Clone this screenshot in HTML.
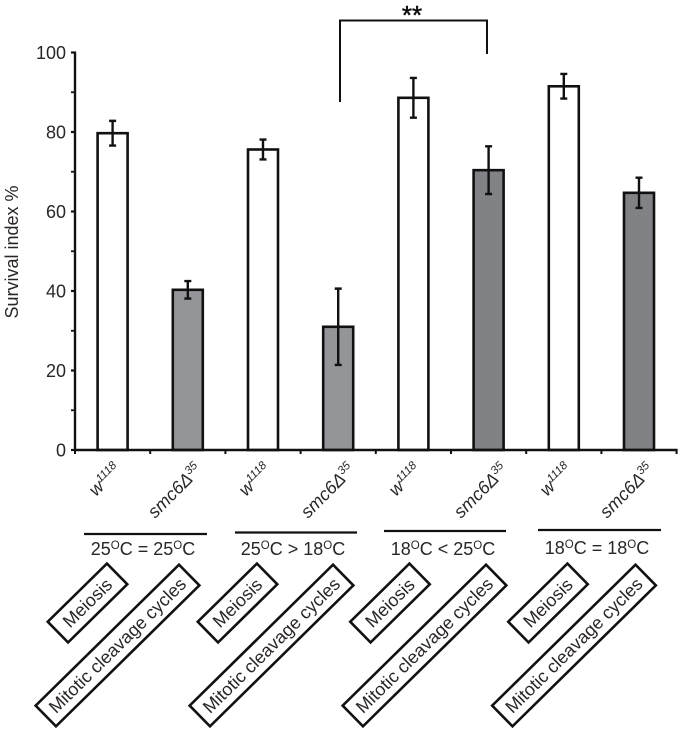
<!DOCTYPE html>
<html lang="en">
<head>
<meta charset="utf-8">
<title>Survival index chart</title>
<style>
  html, body { margin: 0; padding: 0; background: #fff; }
  svg { display: block; font-family: "Liberation Sans", sans-serif; fill: #231f20; }
  .box { fill: #fff; stroke: #111; stroke-width: 2.6; }
  .lbl { font-size: 18px; text-anchor: middle; dominant-baseline: central; fill: #2a2627; }
  .geno { font-size: 18px; font-style: italic; fill: #2a2627; }
  .geno .s { font-size: 11.5px; }
  .cond { font-size: 18px; text-anchor: middle; fill: #2a2627; }
  .cond .o { font-size: 11.5px; }
</style>
</head>
<body>
<svg id="chart" xmlns="http://www.w3.org/2000/svg" width="683" height="732" viewBox="0 0 683 732">
  <rect x="0" y="0" width="683" height="732" fill="#fff"/>
  <g id="plot"></g>

  <text transform="translate(18,252) rotate(-90)" text-anchor="middle" font-size="18" fill="#2a2627">Survival index %</text>

  <path d="M340 102V20.5H487V54" fill="none" stroke="#111" stroke-width="2"/>
  <text x="412" y="24" text-anchor="middle" font-size="26" fill="#111" stroke="#111" stroke-width="0.5">**</text>

  <g>
    <text class="geno" transform="translate(96,497) rotate(-45)">w<tspan class="s" dy="-7">1118</tspan></text>
    <text class="geno" transform="translate(155,519) rotate(-45)">smc6Δ<tspan class="s" dy="-7">35</tspan></text>
    <text class="geno" transform="translate(246,497) rotate(-45)">w<tspan class="s" dy="-7">1118</tspan></text>
    <text class="geno" transform="translate(308,519) rotate(-45)">smc6Δ<tspan class="s" dy="-7">35</tspan></text>
    <text class="geno" transform="translate(396,497) rotate(-45)">w<tspan class="s" dy="-7">1118</tspan></text>
    <text class="geno" transform="translate(461,519) rotate(-45)">smc6Δ<tspan class="s" dy="-7">35</tspan></text>
    <text class="geno" transform="translate(547,497) rotate(-45)">w<tspan class="s" dy="-7">1118</tspan></text>
    <text class="geno" transform="translate(607,519) rotate(-45)">smc6Δ<tspan class="s" dy="-7">35</tspan></text>
  </g>

  <g>
    <line x1="84" y1="534" x2="207" y2="534" stroke="#111" stroke-width="2.2"/>
    <line x1="235" y1="532.5" x2="357" y2="532.5" stroke="#111" stroke-width="2.2"/>
    <line x1="384" y1="531" x2="506" y2="531" stroke="#111" stroke-width="2.2"/>
    <line x1="538" y1="530" x2="661" y2="530" stroke="#111" stroke-width="2.2"/>
    <text class="cond" x="143" y="555">25<tspan class="o" dy="-6">O</tspan><tspan dy="6">C = 25</tspan><tspan class="o" dy="-6">O</tspan><tspan dy="6">C</tspan></text>
    <text class="cond" x="293" y="555">25<tspan class="o" dy="-6">O</tspan><tspan dy="6">C &gt; 18</tspan><tspan class="o" dy="-6">O</tspan><tspan dy="6">C</tspan></text>
    <text class="cond" x="443" y="555">18<tspan class="o" dy="-6">O</tspan><tspan dy="6">C &lt; 25</tspan><tspan class="o" dy="-6">O</tspan><tspan dy="6">C</tspan></text>
    <text class="cond" x="597" y="554">18<tspan class="o" dy="-6">O</tspan><tspan dy="6">C = 18</tspan><tspan class="o" dy="-6">O</tspan><tspan dy="6">C</tspan></text>
  </g>

  <g>
    <g transform="translate(87.5,603) rotate(-44.5)"><rect class="box" x="-41.5" y="-14.5" width="83" height="29"/><text class="lbl">Meiosis</text></g>
    <g transform="translate(117.5,645.5) rotate(-44.5)"><rect class="box" x="-100.5" y="-14.5" width="201" height="29"/><text class="lbl">Mitotic cleavage cycles</text></g>
    <g transform="translate(237.5,603) rotate(-44.5)"><rect class="box" x="-41.5" y="-14.5" width="83" height="29"/><text class="lbl">Meiosis</text></g>
    <g transform="translate(271.5,645.5) rotate(-44.5)"><rect class="box" x="-100.5" y="-14.5" width="201" height="29"/><text class="lbl">Mitotic cleavage cycles</text></g>
    <g transform="translate(390,603) rotate(-44.5)"><rect class="box" x="-41.5" y="-14.5" width="83" height="29"/><text class="lbl">Meiosis</text></g>
    <g transform="translate(424.5,645.5) rotate(-44.5)"><rect class="box" x="-100.5" y="-14.5" width="201" height="29"/><text class="lbl">Mitotic cleavage cycles</text></g>
    <g transform="translate(548,603) rotate(-44.5)"><rect class="box" x="-41.5" y="-14.5" width="83" height="29"/><text class="lbl">Meiosis</text></g>
    <g transform="translate(574,645.5) rotate(-44.5)"><rect class="box" x="-100.5" y="-14.5" width="201" height="29"/><text class="lbl">Mitotic cleavage cycles</text></g>
  </g>
</svg>

<script>
const categories = ["w1118 25=25", "smc6 25=25", "w1118 25>18", "smc6 25>18", "w1118 18<25", "smc6 18<25", "w1118 18=18", "smc6 18=18"];
const survival = [79.7, 40.3, 75.6, 31, 88.6, 70.4, 91.5, 64.7];
const errors = [3.1, 2.2, 2.5, 9.6, 5, 6, 3.1, 3.8];
const fills = ["#ffffff", "#939598", "#ffffff", "#939598", "#ffffff", "#808285", "#ffffff", "#808285"];
const yTickValues = [0, 20, 40, 60, 80, 100];
const yMinorValues = [10, 30, 50, 70, 90];

const plotLeft = 75, bandWidth = 75.2, barWidth = 30;
function xBand(i) { return plotLeft + bandWidth * i; }
function xCenter(i) { return xBand(i) + bandWidth / 2; }
function yScale(v) { return 450 - 3.975 * v; }

const NS = "http://www.w3.org/2000/svg";
const plot = document.getElementById("plot");
function make(tag, attrs, parent) {
  const el = document.createElementNS(NS, tag);
  for (const k in attrs) el.setAttribute(k, attrs[k]);
  (parent || plot).appendChild(el);
  return el;
}

categories.forEach(function (name, i) {
  const cx = xCenter(i);
  const top = yScale(survival[i]);
  const bar = make("rect", { x: cx - barWidth / 2, y: top, width: barWidth, height: yScale(0) - top, fill: fills[i], stroke: "#111", "stroke-width": 2.6 });
  
  
  const hi = yScale(survival[i] + errors[i]);
  const lo = yScale(survival[i] - errors[i]);
  const err = make("path", { d: "M" + (cx - 3.5) + " " + hi + "H" + (cx + 3.5) + "M" + cx + " " + hi + "V" + lo + "M" + (cx - 3.5) + " " + lo + "H" + (cx + 3.5), fill: "none", stroke: "#111", "stroke-width": 2.4 });
  
  
});

yTickValues.forEach(function (v) {
  const tick = make("line", { x1: plotLeft - 4, x2: plotLeft, y1: yScale(v), y2: yScale(v), stroke: "#111", "stroke-width": 2.2 });
  
  
  const label = make("text", { x: 66, y: yScale(v) + 6.5, "text-anchor": "end", "font-size": 18, fill: "#2a2627" });
  label.textContent = String(v);
  
  
});

yMinorValues.forEach(function (v) {
  const tick = make("line", { x1: plotLeft - 4, x2: plotLeft, y1: yScale(v), y2: yScale(v), stroke: "#111", "stroke-width": 1.8 });
  
  
});

for (let i = 0; i <= categories.length; i++) {
  const tick = make("line", { x1: xBand(i), x2: xBand(i), y1: yScale(0), y2: yScale(0) + 4, stroke: "#111", "stroke-width": 2 });
  
  
}

const yAxis = make("line", { x1: plotLeft, x2: plotLeft, y1: yScale(100) - 1, y2: yScale(0) + 1, stroke: "#111", "stroke-width": 2.4 });


const xAxis = make("line", { x1: plotLeft - 1, x2: xBand(categories.length) + 1, y1: yScale(0), y2: yScale(0), stroke: "#111", "stroke-width": 2.4 });


</script>
</body>
</html>
